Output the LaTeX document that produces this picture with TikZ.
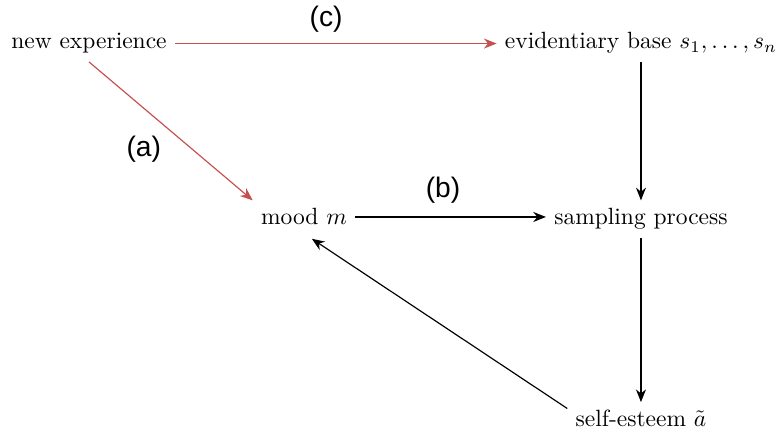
\documentclass[tikz,border=0pt]{standalone}
\usepackage{amsmath,amssymb}
\usepackage{fontspec}
\newfontfamily\lblfont{Liberation Sans}
\usepackage{tikz}
\usetikzlibrary{arrows.meta}
\definecolor{exred}{RGB}{198,80,80}

\begin{document}
\begin{tikzpicture}[>={Stealth[length=1.9mm,width=1.5mm]},line width=.5pt,
  txt/.style={anchor=base,inner sep=3.3pt},
  lbl/.style={font=\lblfont\fontsize{12}{14}\selectfont,text=black,inner sep=0pt},
  upd/.style={->,exred}]
\useasboundingbox (0,0) rectangle (11.654,6.463);
\node[txt] (exp) at (1.331,5.730) {new experience};
\node[txt] (base) at (9.589,5.730) {evidentiary base $s_1,\ldots,s_n$};
\node[txt] (mood) at (4.548,3.097) {mood $m$};
\node[txt] (samp) at (9.589,3.097) {sampling process};
\node[txt] (self) at (9.589,0.075) {self-esteem $\tilde{a}$};
\draw[upd] (exp.east) -- node[lbl,above=4.6pt,pos=.47]{(c)} (exp.east -| base.west);
\draw[upd] (exp.south) -- node[lbl,left=13pt,pos=.63]{(a)} (mood.north west);
\draw[->] (mood.east) -- node[lbl,above=5.4pt,pos=.46]{(b)} (mood.east -| samp.west);
\draw[->] (base) -- (samp);
\draw[->] (samp) -- (self);
\draw[->,shorten >=4pt] (self.172) -- (mood.south);
\end{tikzpicture}
\end{document}
